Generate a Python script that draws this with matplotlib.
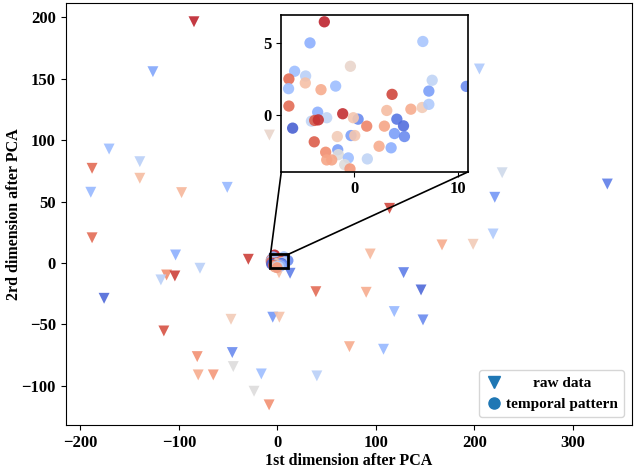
import numpy as np
import matplotlib
matplotlib.use('Agg')
import matplotlib.pyplot as plt
from matplotlib.lines import Line2D
from matplotlib.patches import Rectangle, ConnectionPatch

plt.rcParams['font.family'] = ['Liberation Serif', 'DejaVu Serif']
plt.rcParams['font.weight'] = 'bold'
plt.rcParams['axes.labelweight'] = 'bold'
plt.rcParams['font.size'] = 11.5
plt.rcParams['xtick.labelsize'] = 12
plt.rcParams['ytick.labelsize'] = 12

# raw data after PCA (triangles)
raw_x = [-84.7, -126.4, -170.9, -188.2, -139.7, -139.7, -189.5, -97.3, -50.9, -8.1,
         -188.2, -103.4, -29.5, -78.6, -112.5, -104.1, -118.3, -176.0, -47.1, -4.7,
         2.0, -115.3, -81.4, -45.8, -44.8, -80.4, -65.1, -16.3, -23.7, -8.4,
         1.7, 228.3, 335.1, 220.8, 113.9, 219.1, 167.2, 198.8, 94.3, 12.9,
         128.2, 39.1, 90.2, 145.9, 118.7, 147.9, 73.2, 107.8, 40.1, 205.2]
raw_y = [196.5, 155.8, 92.8, 77.1, 82.5, 69.0, 57.6, 57.3, 61.6, 104.2,
         20.5, 6.5, 3.0, -4.3, -9.8, -10.6, -13.8, -28.8, -45.9, -44.2,
         -44.2, -55.4, -76.3, -73.0, -84.4, -91.2, -91.2, -90.4, -104.5, -115.6,
         -8.0, 73.5, 64.3, 53.5, 44.5, 23.6, 14.7, 15.2, 7.3, -8.4,
         -7.9, -23.4, -23.9, -22.0, -39.6, -46.4, -68.2, -70.3, -92.0, 158.0]
raw_c = [0.97, 0.22, 0.30, 0.85, 0.38, 0.65, 0.28, 0.67, 0.28, 0.55,
         0.85, 0.25, 0.93, 0.38, 0.78, 0.93, 0.38, 0.07, 0.60, 0.18,
         0.63, 0.90, 0.77, 0.15, 0.50, 0.70, 0.75, 0.30, 0.50, 0.77,
         0.65, 0.45, 0.12, 0.18, 0.92, 0.35, 0.70, 0.60, 0.66, 0.12,
         0.12, 0.85, 0.70, 0.07, 0.28, 0.15, 0.70, 0.28, 0.38, 0.35]

# temporal pattern (circles)
tp_x = [-2.86, -4.24, 6.62, -0.35, -5.72, -4.66, -6.27, -4.69, -6.30, -3.18,
        -1.77, 7.52, 7.20, 10.8, 3.66, -6.27, -3.50, -1.09, 3.15, 5.47,
        6.56, 7.20, -2.63, -4.10, -3.79, -3.44, 0.39, -0.07, 1.22, 2.92,
        4.12, 4.76, -5.91, 3.89, 4.85, -0.29, -1.61, 0.07, -3.83, 2.41,
        3.57, -1.57, -2.73, -1.51, -2.63, -2.15, -0.55, 1.28, -0.90, -0.39]
tp_y = [6.52, 5.04, 5.14, 3.40, 3.05, 2.72, 2.51, 2.23, 1.83, 1.76,
        2.01, 2.42, 1.66, 1.99, 1.43, 0.61, 0.18, 0.07, 0.30, 0.39,
        0.51, 0.73, -0.21, -0.45, -0.40, -0.36, -0.31, -0.21, -0.80, -0.80,
        -0.31, -0.78, -0.94, -1.32, -1.53, -1.46, -1.53, -1.46, -1.90, -2.21,
        -2.32, -2.46, -2.63, -2.80, -3.17, -3.17, -3.03, -3.10, -3.50, -3.80]
tp_c = [0.97, 0.25, 0.33, 0.55, 0.30, 0.38, 0.85, 0.64, 0.30, 0.70,
        0.30, 0.40, 0.20, 0.15, 0.92, 0.85, 0.25, 0.96, 0.65, 0.70,
        0.60, 0.35, 0.40, 0.40, 0.88, 0.95, 0.15, 0.62, 0.80, 0.72,
        0.10, 0.08, 0.05, 0.20, 0.15, 0.20, 0.60, 0.62, 0.88, 0.70,
        0.25, 0.20, 0.78, 0.50, 0.72, 0.72, 0.30, 0.40, 0.50, 0.75]

cmap = plt.get_cmap('coolwarm')

fig = plt.figure(figsize=(6.34, 4.68), dpi=100)
ax = fig.add_axes([0.1036, 0.0919, 0.893, 0.9023])
ax.scatter(raw_x, raw_y, c=raw_c, cmap=cmap, vmin=0, vmax=1, marker='v', s=62, alpha=0.9, linewidths=0)
ax.scatter(tp_x, tp_y, c=tp_c, cmap=cmap, vmin=0, vmax=1, marker='o', s=62, alpha=0.9, linewidths=0)
ax.set_xlim(-215, 360)
ax.set_ylim(-132, 212)
ax.set_xlabel('1st dimension after PCA', labelpad=1.5)
ax.set_ylabel('2rd dimension after PCA', labelpad=0)

handles = [Line2D([], [], marker='v', ls='', color='#1f77b4', markersize=8),
           Line2D([], [], marker='o', ls='', color='#1f77b4', markersize=8)]
leg = ax.legend(handles, ['raw data', 'temporal pattern'], loc='lower right',
                fontsize=11, handletextpad=0.2, handlelength=1.2)

# zoomed inset
x1, x2, y1, y2 = -7, 11, -4, 7
axins = fig.add_axes([0.4437, 0.633, 0.295, 0.335])
axins.scatter(tp_x, tp_y, c=tp_c, cmap=cmap, vmin=0, vmax=1, marker='o', s=66, alpha=0.9, linewidths=0)
axins.scatter(raw_x, raw_y, c=raw_c, cmap=cmap, vmin=0, vmax=1, marker='v', s=62, alpha=0.9, linewidths=0)
axins.set_xlim(x1, x2)
axins.set_ylim(y1, y2)
axins.set_xticks([0, 10])
axins.set_yticks([0, 5])
for s in axins.spines.values():
    s.set_color('black')
    s.set_linewidth(1.2)

ax.add_patch(Rectangle((x1, y1), x2 - x1, y2 - y1, fill=False, ec='black', lw=2, zorder=5))
for xa, xb in [(0, x1), (1, x2)]:
    con = ConnectionPatch(xyA=(xa, 0), coordsA=axins.transAxes, xyB=(xb, y2), coordsB=ax.transData,
                          color='black', lw=1.2)
    fig.add_artist(con)

# center the legend texts
fig.canvas.draw()
r = fig.canvas.get_renderer()
texts = leg.get_texts()
w = [t.get_window_extent(r).width for t in texts]
for t, wi in zip(texts, w):
    t.set_position(((max(w) - wi) / 2, 0))

plt.savefig('out.png', dpi=100)
